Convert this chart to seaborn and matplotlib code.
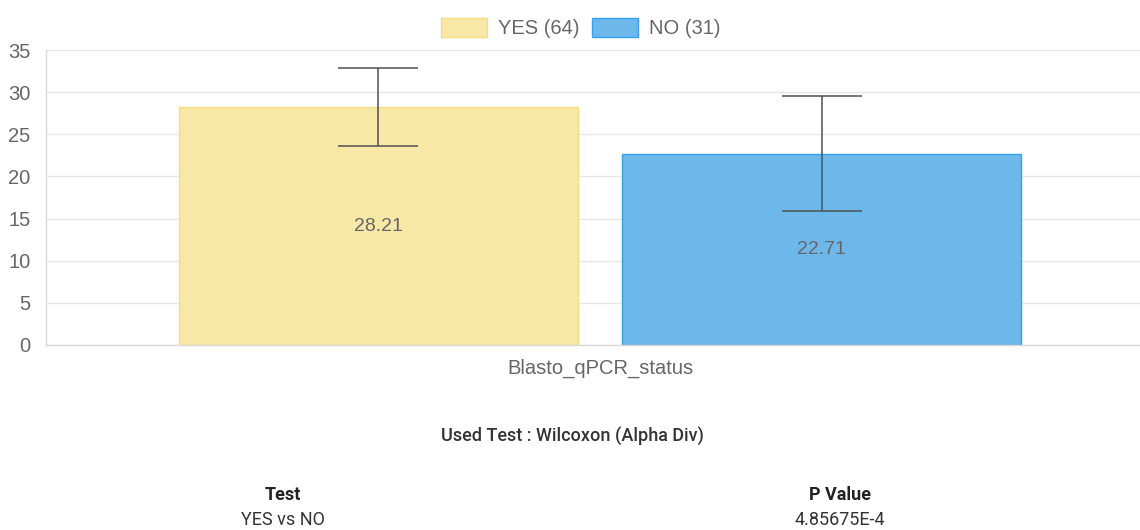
import matplotlib
matplotlib.use("Agg")
import matplotlib.pyplot as plt
from matplotlib.patches import Patch
import seaborn as sns
import pandas as pd

# Alpha diversity summary per group
category = "Blasto_qPCR_status"
groups = ["YES", "NO"]
counts = [64, 31]
means = [28.21, 22.71]
sds = [4.64, 6.83]

fills = ["#f8e8a8", "#6db8ea"]
edges = ["#f5dc80", "#36a2eb"]

test_name = "Used Test : Wilcoxon (Alpha Div)"
comparisons = ["YES vs NO"]
p_values = ["4.85675E-4"]

sns.set_style("white")
plt.rcParams["font.family"] = ["Liberation Sans", "DejaVu Sans"]

W, H = 1140, 530
fig = plt.figure(figsize=(W / 100, H / 100), dpi=100)
ax = fig.add_axes([46 / W, 1 - 345 / H, 1094 / W, 295 / H])

df = pd.DataFrame({"category": [category] * len(groups), "group": groups, "value": means})
sns.barplot(data=df, x="category", y="value", hue="group", hue_order=groups,
            palette=dict(zip(groups, fills)), width=0.81, gap=0.1,
            errorbar=None, legend=False, ax=ax, saturation=1)

grid_c = "#e6e6e6"
text_c = "#666666"
for cont, ec, m, s in zip(ax.containers, edges, means, sds):
    for p in cont:
        p.set_edgecolor(ec)
        p.set_linewidth(1)
        p.set_zorder(2)
        cx = p.get_x() + p.get_width() / 2
        ax.errorbar(cx, m, yerr=s, fmt="none", ecolor="#505050", elinewidth=1.1,
                    capsize=28.8, capthick=1.1, zorder=3)
    ax.bar_label(cont, labels=[f"{m:.2f}"], label_type="center",
                 color=text_c, fontsize=14)

ax.set_ylim(0, 35)
ax.set_yticks(range(0, 36, 5))
ax.set_xlim(-(600 - 46) / 1094, (1140 - 600) / 1094)
ax.set_xlabel("")
ax.set_ylabel("")
ax.grid(axis="y", color=grid_c, linewidth=1, zorder=0)
ax.set_axisbelow(True)
for side in ["top", "right"]:
    ax.spines[side].set_visible(False)
for side in ["left", "bottom"]:
    ax.spines[side].set_color("#d9d9d9")
    ax.spines[side].set_linewidth(1)
ax.tick_params(axis="y", length=8, color=grid_c, labelsize=14.5, labelcolor=text_c, pad=3)
ax.tick_params(axis="x", length=0, labelsize=14.5, labelcolor=text_c, pad=10)
ax.set_xticks([ax.get_xlim()[0]], minor=True)
ax.tick_params(axis="x", which="minor", length=10, color="#d9d9d9")

handles = [Patch(facecolor=f, edgecolor=e, linewidth=1) for f, e in zip(fills, edges)]
labels = [f"{g} ({n})" for g, n in zip(groups, counts)]
fig.legend(handles, labels, loc="center", bbox_to_anchor=(581 / W, 1 - 28 / H),
           ncol=2, frameon=False, fontsize=14.5, labelcolor=text_c,
           handlelength=2.3, handleheight=1.1, handletextpad=0.55, columnspacing=0.6)

dark = "#333333"
ui_font = ["Roboto", "DejaVu Sans"]
fig.text(572 / W, 1 - 436 / H, test_name, ha="center", va="center",
         fontsize=13, color=dark, family=ui_font, fontweight="medium")
fig.text(283 / W, 1 - 495 / H, "Test", ha="center", va="center",
         fontsize=13, color="#222222", family=ui_font, fontweight="bold")
fig.text(840 / W, 1 - 495 / H, "P Value", ha="center", va="center",
         fontsize=13, color="#222222", family=ui_font, fontweight="bold")
for i, (c, pv) in enumerate(zip(comparisons, p_values)):
    y = 1 - (520 + 22 * i) / H
    fig.text(283 / W, y, c, ha="center", va="center", fontsize=13,
             color=dark, family=ui_font)
    fig.text(840 / W, y, pv, ha="center", va="center", fontsize=13,
             color=dark, family=ui_font)

fig.savefig("out.png", dpi=100, facecolor="white")
